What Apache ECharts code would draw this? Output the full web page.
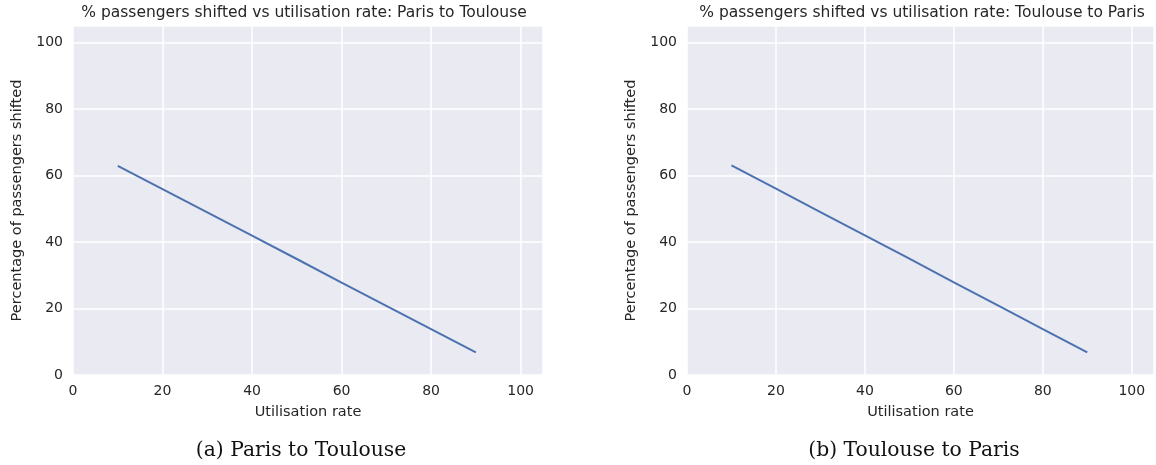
<!DOCTYPE html>
<html>
<head>
<meta charset="utf-8">
<script src="https://cdn.jsdelivr.net/npm/echarts@6/dist/echarts.min.js"></script>
<style>
  html, body { margin: 0; padding: 0; background: #ffffff; }
  #chart { width: 1156px; height: 465px; }
</style>
</head>
<body>
<div id="chart"></div>
<script>
// Utilisation rate (%) sampled along each route
const utilisation = [10, 20, 30, 40, 50, 60, 70, 80, 90];
// Share of passengers shifted (%) for each direction
const parisToToulouse = [62.9, 55.9, 48.9, 41.9, 34.9, 27.8, 20.8, 13.8, 6.8];
const toulouseToParis = [63.1, 56.1, 49.0, 42.0, 35.0, 27.9, 20.9, 13.8, 6.8];
// Panel headings and captions
const panelTitles = [
  '% passengers shifted vs utilisation rate: Paris to Toulouse',
  '% passengers shifted vs utilisation rate: Toulouse to Paris'
];
const captions = ['(a) Paris to Toulouse', '(b) Toulouse to Paris'];
const xTitle = 'Utilisation rate';
const yTitle = 'Percentage of passengers shifted';

const textColor = '#262626';
const sans = 'DejaVu Sans';

const grids = [
  { left: 73, top: 26, width: 470, height: 349 },
  { left: 687, top: 26, width: 467, height: 349 }
];

function xAxisFor(i) {
  return {
    type: 'value', gridIndex: i, min: 0, max: 105, interval: 20,
    name: xTitle, nameLocation: 'middle', nameGap: 30,
    nameTextStyle: { color: textColor, fontFamily: sans, fontSize: 14.5 },
    axisLine: { show: false }, axisTick: { show: false },
    axisLabel: { color: textColor, fontFamily: sans, fontSize: 14, margin: 9, showMaxLabel: false },
    splitLine: { show: true, lineStyle: { color: '#ffffff', width: 1.5 } }
  };
}
function yAxisFor(i) {
  return {
    type: 'value', gridIndex: i, min: 0, max: 105, interval: 20,
    name: yTitle, nameLocation: 'middle', nameGap: 48,
    nameTextStyle: { color: textColor, fontFamily: sans, fontSize: 14.5 },
    axisLine: { show: false }, axisTick: { show: false },
    axisLabel: { color: textColor, fontFamily: sans, fontSize: 14, margin: 10, showMaxLabel: false },
    splitLine: { show: true, lineStyle: { color: '#ffffff', width: 1.5 } }
  };
}

const headingStyle = { color: textColor, fontFamily: sans, fontSize: 15.5, fontWeight: 'normal' };
const captionStyle = { color: '#111111', fontFamily: 'DejaVu Serif', fontSize: 20.3, fontWeight: 'normal' };

const chart = echarts.init(document.getElementById('chart'), null, { renderer: 'canvas' });
chart.setOption({
  backgroundColor: '#ffffff',
  animation: false,
  title: [
    { text: panelTitles[0], left: 304, top: 5, padding: 0, textAlign: 'center', textStyle: headingStyle },
    { text: panelTitles[1], left: 922, top: 5, padding: 0, textAlign: 'center', textStyle: headingStyle },
    { text: captions[0], left: 301, top: 441, padding: 0, textAlign: 'center', textStyle: captionStyle },
    { text: captions[1], left: 914, top: 441, padding: 0, textAlign: 'center', textStyle: captionStyle }
  ],
  grid: grids.map(g => Object.assign({ show: true, backgroundColor: '#eaeaf2', borderWidth: 0 }, g)),
  xAxis: [xAxisFor(0), xAxisFor(1)],
  yAxis: [yAxisFor(0), yAxisFor(1)],
  series: [
    { type: 'line', xAxisIndex: 0, yAxisIndex: 0, showSymbol: false,
      lineStyle: { color: '#4c72b0', width: 2 },
      data: utilisation.map((u, k) => [u, parisToToulouse[k]]) },
    { type: 'line', xAxisIndex: 1, yAxisIndex: 1, showSymbol: false,
      lineStyle: { color: '#4c72b0', width: 2 },
      data: utilisation.map((u, k) => [u, toulouseToParis[k]]) }
  ]
});
</script>
</body>
</html>
